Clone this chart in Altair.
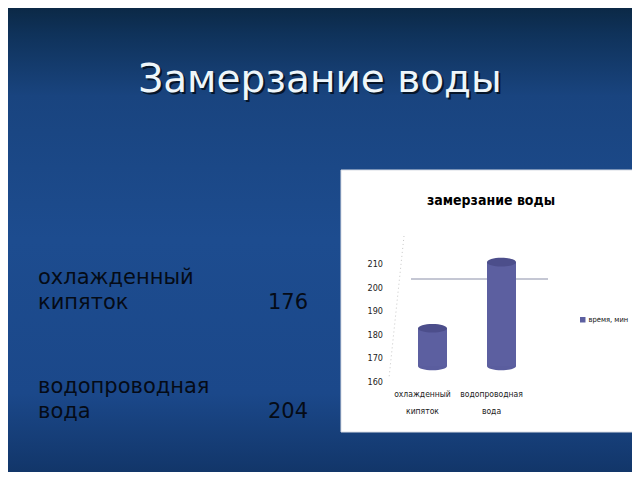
import altair as alt
import pandas as pd

# ---- data ----
categories = ["охлажденный\nкипяток", "водопроводная\nвода"]
values = [176, 204]
y_ticks = [160, 170, 180, 190, 200, 210]
series_name = "время, мин"
slide_title = "Замерзание воды"
chart_title = "замерзание воды"
table_names = [["охлажденный", "кипяток"], ["водопроводная", "вода"]]
table_values = ["176", "204"]

df = pd.DataFrame({"cat": categories, "v": values, "base": [160] * len(values),
                   "s": [series_name] * len(values)})
ticks_df = pd.DataFrame({"v": y_ticks})

# plot area placed at screen (398, 248); size 138 x 118
PL, PT, PW, PH = 390, 240, 138, 118
TOTAL_W, TOTAL_H = 624, 464
OX, OY = PL + 8, PT + 8  # screen coords of plot origin

def sx(x):
    return x - OX

def sy(y):
    return y - OY

narrow = "DejaVu Sans Condensed, Liberation Sans Narrow, sans-serif"

xs = alt.X("cat:N", sort=categories, axis=None,
           scale=alt.Scale(paddingInner=0, paddingOuter=0))
ys = alt.Scale(domain=[160, 210], zero=False, nice=False)

dummy = pd.DataFrame({"a": [0]})

bg = alt.Chart(dummy).mark_rect(
    color=alt.Gradient(
        gradient="linear", x1=0, y1=0, x2=0, y2=1,
        stops=[alt.GradientStop(color="#0A2640", offset=0),
               alt.GradientStop(color="#0F325A", offset=0.07),
               alt.GradientStop(color="#19447F", offset=0.2),
               alt.GradientStop(color="#1D4C8F", offset=0.5),
               alt.GradientStop(color="#1B488A", offset=0.82),
               alt.GradientStop(color="#113466", offset=1)])
).encode(x=alt.value(sx(0)), x2=alt.value(sx(640)),
         y=alt.value(sy(0)), y2=alt.value(sy(480)))

# slide title with shadow
title_shadow = alt.Chart(dummy).mark_text(
    text=slide_title, font="DejaVu Sans", fontSize=39, color="#06162A",
    align="center", baseline="alphabetic"
).encode(x=alt.value(sx(322)), y=alt.value(sy(94)))
title_txt = alt.Chart(dummy).mark_text(
    text=slide_title, font="DejaVu Sans", fontSize=39, color="#EEF6FA",
    align="center", baseline="alphabetic"
).encode(x=alt.value(sx(320)), y=alt.value(sy(92)))

# left text table
left_layers = []
base_y = [284, 393]
for i, (names, val) in enumerate(zip(table_names, table_values)):
    for j, line in enumerate(names):
        left_layers.append(alt.Chart(dummy).mark_text(
            text=line, font="DejaVu Sans", fontSize=21, color="#050B16",
            align="left", baseline="alphabetic"
        ).encode(x=alt.value(sx(38)), y=alt.value(sy(base_y[i] + 25 * j))))
    left_layers.append(alt.Chart(dummy).mark_text(
        text=val, font="DejaVu Sans", fontSize=21, color="#050B16",
        align="right", baseline="alphabetic"
    ).encode(x=alt.value(sx(308)), y=alt.value(sy(base_y[i] + 25))))

# embedded chart frame
frame = alt.Chart(dummy).mark_rect(color="white", stroke="#D8DCE4", strokeWidth=1).encode(
    x=alt.value(sx(341)), x2=alt.value(sx(634)),
    y=alt.value(sy(170)), y2=alt.value(sy(432)))

inner_title = alt.Chart(dummy).mark_text(
    text=chart_title, font=narrow, fontSize=14, fontWeight="bold", color="#000000",
    align="center", baseline="middle"
).encode(x=alt.value(sx(491)), y=alt.value(sy(201)))

gridline = alt.Chart(dummy).mark_rule(color="#8A8FA8", strokeWidth=1).encode(
    x=alt.value(sx(411)), x2=alt.value(sx(548)), y=alt.value(sy(279)))

dots = alt.Chart(dummy).mark_rule(color="#C8C8C8", strokeDash=[1, 3], strokeWidth=1).encode(
    x=alt.value(sx(404)), x2=alt.value(sx(389)), y=alt.value(sy(236)), y2=alt.value(sy(378)))

ticklabels = alt.Chart(ticks_df).mark_text(
    font=narrow, fontSize=9, color="#222222", align="right", baseline="middle", dy=16
).encode(x=alt.value(sx(383)), y=alt.Y("v:Q", scale=ys, axis=None), text="v:Q")

ell = "M -1 0 A 1 0.3 0 1 0 1 0 A 1 0.3 0 1 0 -1 0 Z"

bottom_ell = alt.Chart(df).mark_point(
    shape=ell, size=841, filled=True, opacity=1, color="#5A5D9E", strokeWidth=0
).encode(x=xs, y=alt.Y("base:Q", scale=ys, axis=None))

body = alt.Chart(df).mark_bar(size=29).encode(
    x=xs, y=alt.Y("v:Q", scale=ys, axis=None), y2="base:Q",
    color=alt.Color("s:N", scale=alt.Scale(range=["#5C5FA0"]),
                    legend=alt.Legend(title=None, orient="none",
                                      legendX=sx(579), legendY=sy(316),
                                      symbolType="square", symbolSize=30,
                                      symbolStrokeWidth=0,
                                      labelFont=narrow, labelFontSize=7.5,
                                      labelColor="#111111", labelOffset=2,
                                      padding=0)))

top_ell = alt.Chart(df).mark_point(
    shape=ell, size=841, filled=True, opacity=1, color="#4C4E8B", strokeWidth=0
).encode(x=xs, y=alt.Y("v:Q", scale=ys, axis=None))

catlabels = alt.Chart(df).mark_text(
    font=narrow, fontSize=8.5, color="#222222", align="center", baseline="top",
    lineBreak="\n", lineHeight=17, dx=-10
).encode(x=xs, y=alt.value(sy(390)), text="cat:N")

chart = alt.layer(
    bg, title_shadow, title_txt, *left_layers, frame, inner_title, gridline, dots,
    ticklabels, bottom_ell, body, top_ell, catlabels
).properties(
    width=PW, height=PH,
    padding={"left": PL, "top": PT, "right": TOTAL_W - PL - PW, "bottom": TOTAL_H - PT - PH},
    autosize=alt.AutoSizeParams(type="none")
).configure_view(stroke=None).configure(background="#1D4C8F")

chart.save("out.html", embed_options={"renderer": "svg", "actions": False})
